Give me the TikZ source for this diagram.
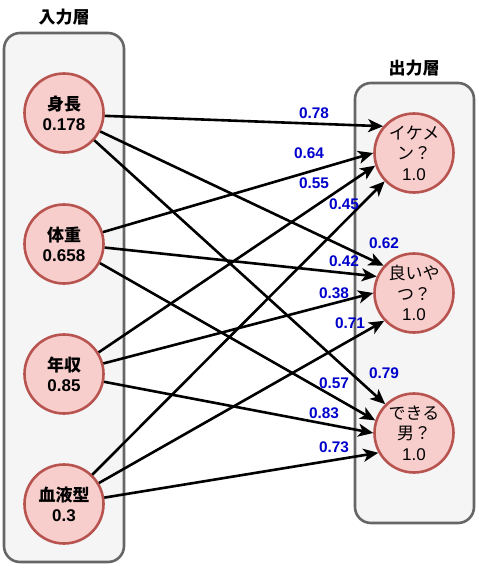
\documentclass[tikz,border=0pt]{standalone}
\usepackage{fontspec}
\setmainfont{Liberation Sans}
\newfontfamily\jp{Noto Sans CJK JP}
\usetikzlibrary{arrows.meta}
\definecolor{nodefill}{HTML}{F8CECC}
\definecolor{nodeline}{HTML}{B85450}
\definecolor{boxfill}{HTML}{F5F5F5}
\definecolor{boxline}{HTML}{666666}
\definecolor{wcol}{HTML}{0000CC}
\begin{document}
\begin{tikzpicture}[x=1pt,y=-1pt,
  layerbox/.style={draw=boxline, fill=boxfill, line width=2.6pt, rounded corners=16pt},
  neuron/.style={circle, draw=nodeline, fill=nodefill, line width=2.6pt, minimum size=79pt, inner sep=0pt, align=center, font=\fontsize{17}{20.5}\selectfont},
  innode/.style={neuron, font=\fontsize{17}{20}\selectfont\bfseries},
  titletext/.style={font=\fontsize{17}{20}\selectfont\bfseries\jp, inner sep=0pt},
  link/.style={line width=2.6pt, -{Stealth[length=15pt,width=13pt,inset=4pt]}},
  weight/.style={text=wcol, font=\fontsize{15.4}{18}\selectfont\bfseries, inner sep=0pt}]
\useasboundingbox (0,0) rectangle (479,568);
% containers
\draw[layerbox] (4,33) rectangle (124,562);
\draw[layerbox] (355,83) rectangle (474,523);
\node[titletext] (tin) at (64,17) {入力層};
\node[titletext] (tout) at (414,68) {出力層};
% input nodes
\node[innode] (A) at (64,113) {{\jp 身長}\\0.178};
\node[innode] (B) at (64,244) {{\jp 体重}\\0.658};
\node[innode] (C) at (64,374) {{\jp 年収}\\0.85};
\node[innode] (D) at (64,504) {{\jp 血液型}\\0.3};
% output nodes
\node[neuron] (X) at (414,153) {{\jp イケメ}\\{\jp ン？}\\1.0};
\node[neuron] (Y) at (414,293) {{\jp 良いや}\\{\jp つ？}\\1.0};
\node[neuron] (Z) at (414,433) {{\jp できる}\\{\jp 男？}\\1.0};
% connectors
\draw[link] (A.-4) -- (X.139);
\draw[link] (B.17) -- (X.180);
\draw[link] (C.32) -- (X.198);
\draw[link] (D.46) -- (X.224);
\draw[link] (A.-27) -- (Y.138);
\draw[link] (B.-5) -- (Y.156);
\draw[link] (C.15) -- (Y.180);
\draw[link] (D.31) -- (Y.223);
\draw[link] (A.-42) -- (Z.135);
\draw[link] (B.-28) -- (Z.162);
\draw[link] (C.-11) -- (Z.180);
\draw[link] (D.9) -- (Z.209);
% weights
\node[weight] (wAX) at (314,113) {0.78};
\node[weight] (wBX) at (309,153) {0.64};
\node[weight] (wCX) at (314,183) {0.55};
\node[weight] (wDX) at (344,204) {0.45};
\node[weight] (wAY) at (384,243) {0.62};
\node[weight] (wBY) at (344,261) {0.42};
\node[weight] (wCY) at (334,293) {0.38};
\node[weight] (wDY) at (350,323) {0.71};
\node[weight] (wAZ) at (384,373) {0.79};
\node[weight] (wBZ) at (334,383) {0.57};
\node[weight] (wCZ) at (324,413) {0.83};
\node[weight] (wDZ) at (334,447) {0.73};
\end{tikzpicture}
\end{document}
